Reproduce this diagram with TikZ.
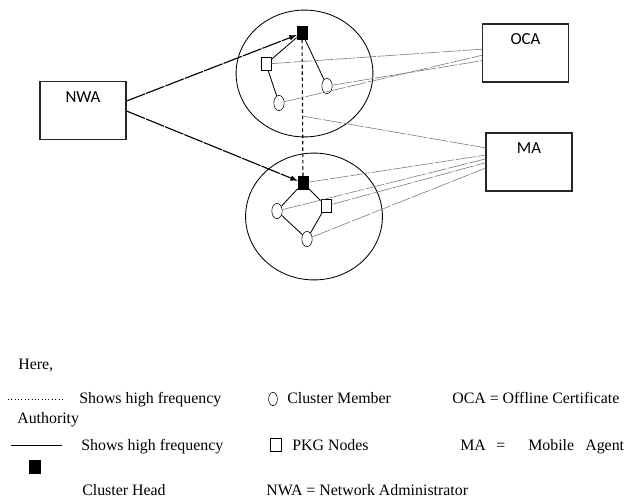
\documentclass[tikz,border=0pt]{standalone}
\usepackage{fontspec}
\setmainfont{Liberation Serif}
\newfontfamily\boxfont{Carlito}
\usetikzlibrary{shapes.geometric, arrows, positioning}

\tikzset{
	agent/.style={draw, thick, draw=black!85, minimum width=2.15cm, minimum height=1.45cm,
		label={[anchor=north, font=\boxfont\fontsize{12}{14}\selectfont, label distance=-0.14cm]north:#1}},
	cluster/.style={ellipse, draw, semithick, minimum width=3.42cm, minimum height=3.17cm, inner sep=0},
	head/.style={draw, fill=black, minimum width=0.25cm, minimum height=0.32cm, inner sep=0},
	pkg/.style={draw, fill=white, minimum width=0.25cm, minimum height=0.32cm, inner sep=0},
	member/.style={ellipse, draw, fill=white, minimum width=0.26cm, minimum height=0.38cm, inner sep=0},
	link/.style={black!50, line width=0.45pt, dash pattern=on 14pt off 1.2pt},
	freq/.style={-latex, thick, dash pattern=on 14pt off 0.8pt},
	legend/.style={anchor=base west, inner sep=0, font=\fontsize{11.3}{13}\selectfont},
}

\begin{document}
\begin{tikzpicture}[x=0.025cm, y=-0.025cm]
	\useasboundingbox (0,0) rectangle (629,500);

	% agents
	\node[agent=NWA] (nwa) at (83,110.5) {};
	\node[agent=OCA] (oca) at (525.5,53) {};
	\node[agent=MA] (ma) at (529,162) {};

	% clusters
	\node[cluster] (c1) at (304.5,73.5) {};
	\node[cluster] (c2) at (314,216.5) {};

	\node[head] (h1) at (302,33) {};
	\node[pkg] (p1) at (266,64) {};
	\node[member] (m1) at (279,103) {};
	\node[member] (m2) at (327,86) {};

	\node[head] (h2) at (303,183) {};
	\node[pkg] (p2) at (326,206) {};
	\node[member] (m3) at (277,211) {};
	\node[member] (m4) at (307,239) {};

	\coordinate (tap) at (302,116);

	\draw[semithick]
		(h1) -- (m2)
		(h1) -- (p1)
		(p1) -- (m1)
		(h2) -- (m3)
		(h2) -- (p2)
		(m3) -- (m4)
		(m4) -- (p2);

	% high frequency
	\draw[freq] (nwa.east |- 0,101) -- (h1);
	\draw[freq] (nwa.east |- 0,111) -- (h2);
	\draw[thick, dash pattern=on 2.5pt off 2pt] (h1) -- (h2);

	% to OCA and MA
	\draw[link]
		(p1) edge (oca.175)
		(m1) edge (oca.183)
		(m2) edge (oca.190)
		(tap) edge (ma.162)
		(h2) edge (ma.171)
		(m3) edge (ma.176)
		(p2) edge (ma.181)
		(m4) edge (ma.188);

	% legend
	\node[legend] (here) at (18,369) {Here,};

	\draw[dotted] (8,399) coordinate (d1) -- (65,399) coordinate (d2);
	\node[legend] (t1) at (79,403) {Shows high frequency};
	\node[legend] (t1b) at (17,423) {Authority};
	\draw (11,445) coordinate (s1) -- (62,445) coordinate (s2);
	\node[legend] (t2) at (81,450) {Shows high frequency};
	\node[head, minimum width=0.27cm, minimum height=0.33cm] (lh) at (35,467) {};
	\node[legend] (t3) at (82,495) {Cluster Head};

	\node[member, minimum width=0.22cm, minimum height=0.33cm] (lm) at (273,399) {};
	\node[legend] (t4) at (287,403) {Cluster Member};
	\node[pkg, minimum width=0.27cm, minimum height=0.33cm] (lp) at (276,445) {};
	\node[legend] (t5) at (292,450) {PKG Nodes};
	\node[legend] (t6) at (266,495) {NWA = Network Administrator};

	\node[legend] (t7) at (452,403) {OCA = Offline Certificate};
	\node[legend] (t8a) at (460,450) {MA};
	\node[legend] (t8b) at (496,450) {=};
	\node[legend] (t8c) at (528,450) {Mobile};
	\node[legend] (t8d) at (585,450) {Agent};
\end{tikzpicture}
\end{document}
